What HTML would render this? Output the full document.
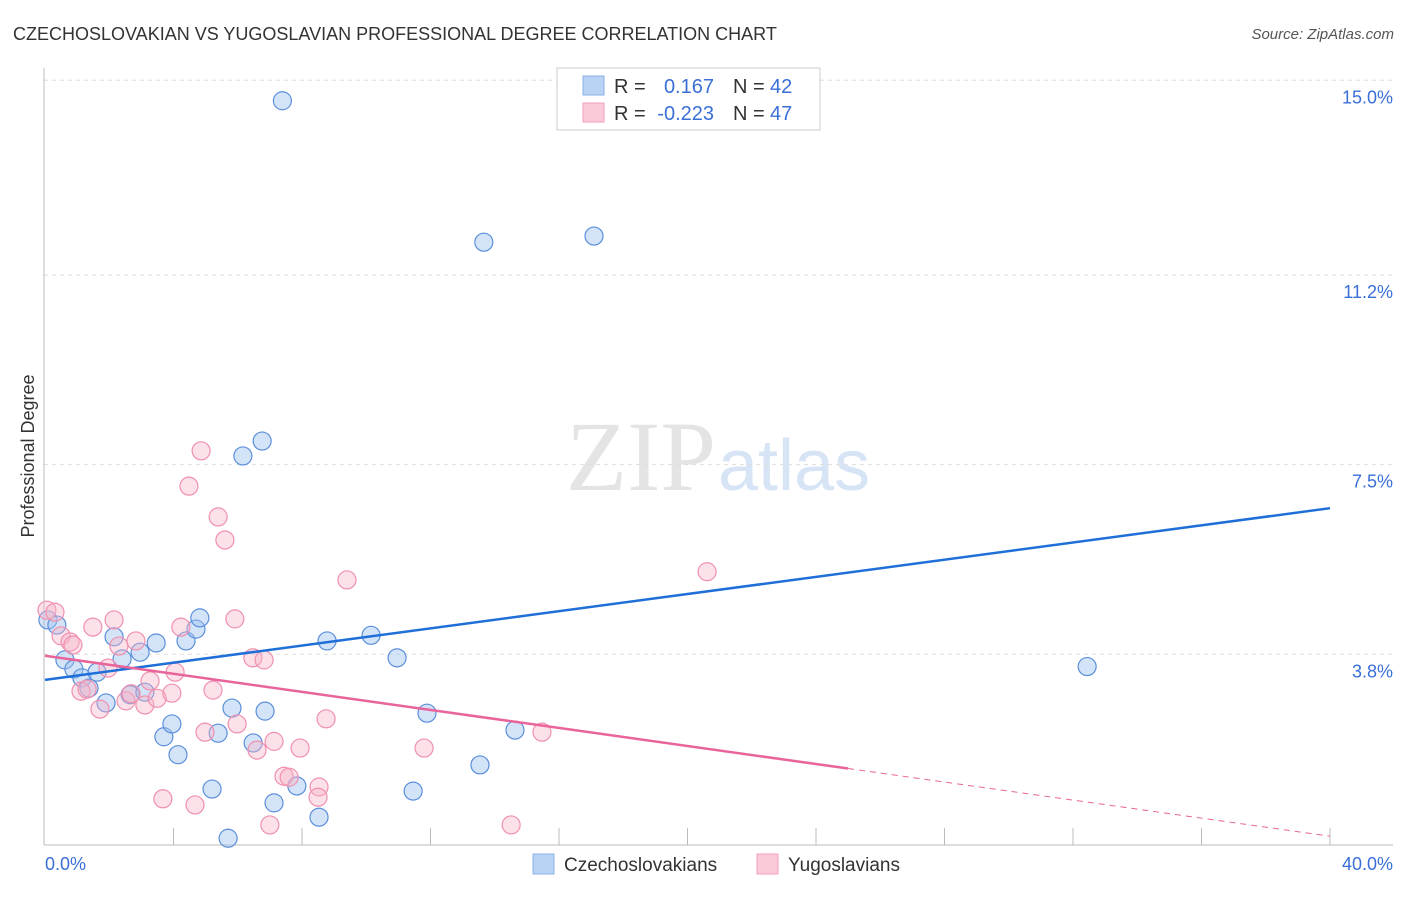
<!DOCTYPE html>
<html><head><meta charset="utf-8"><style>
body{margin:0;background:#fff;font-family:"Liberation Sans",sans-serif}
svg text{font-family:"Liberation Sans",sans-serif}
</style></head><body>
<svg id="c" width="1406" height="892" xmlns="http://www.w3.org/2000/svg">
<text x="13" y="40" font-size="18" fill="#333">CZECHOSLOVAKIAN VS YUGOSLAVIAN PROFESSIONAL DEGREE CORRELATION CHART</text>
<text x="1394" y="39" font-size="15" fill="#555" text-anchor="end" font-style="italic">Source: ZipAtlas.com</text>
<text x="716" y="490" font-size="100" fill="#e4e4e4" text-anchor="end" style="font-family:'Liberation Serif',serif">ZIP</text>
<text x="718" y="490" font-size="72" fill="#d6e4f5">atlas</text>
<text transform="translate(34,456) rotate(-90)" font-size="18" fill="#333" text-anchor="middle">Professional Degree</text>
<g id="grid"></g><g id="pts"></g><g id="lines"></g>
<g>
<rect x="557" y="68" width="263" height="62" fill="#fff" stroke="#ccc"/>
<rect x="583" y="76" width="21" height="19" fill="#b9d3f5" stroke="#8ab0e6"/>
<rect x="583" y="103" width="21" height="19" fill="#fbcad8" stroke="#f0a0b8"/>
<text x="614" y="93" font-size="20" fill="#333">R =</text>
<text x="714" y="93" font-size="20" fill="#3a6fd8" text-anchor="end">0.167</text>
<text x="733" y="93" font-size="20" fill="#333">N =</text>
<text x="770" y="93" font-size="20" fill="#3a6fd8">42</text>
<text x="614" y="120" font-size="20" fill="#333">R =</text>
<text x="714" y="120" font-size="20" fill="#3a6fd8" text-anchor="end">-0.223</text>
<text x="733" y="120" font-size="20" fill="#333">N =</text>
<text x="770" y="120" font-size="20" fill="#3a6fd8">47</text>
</g>
<g>
<rect x="533" y="854" width="21" height="20" fill="#b9d3f5" stroke="#8ab0e6"/>
<text x="564" y="871" font-size="19" fill="#333">Czechoslovakians</text>
<rect x="757" y="854" width="21" height="20" fill="#fbcad8" stroke="#f0a0b8"/>
<text x="788" y="871" font-size="19" fill="#333">Yugoslavians</text>
</g>
<text x="45" y="870" font-size="18" fill="#3a6fd8">0.0%</text>
<text x="1393" y="870" font-size="18" fill="#3a6fd8" text-anchor="end">40.0%</text>
</svg>
<script>
const yTicks=[15.0,11.2,7.5,3.8];
const yTickLabels=["15.0%","11.2%","7.5%","3.8%"];
const bX=[7.39,13.66,17.09,6.76,6.16,32.44,0.09,0.37,0.62,0.90,1.15,1.37,1.62,1.90,2.15,2.40,2.65,2.96,3.11,3.46,3.70,3.95,4.14,4.39,4.70,4.82,5.20,5.39,5.70,5.82,6.48,6.85,7.13,7.84,8.53,8.78,10.15,10.96,11.46,11.89,13.54,14.63];
const bY=[14.60,11.84,11.96,7.96,7.67,3.56,4.47,4.37,3.69,3.51,3.34,3.14,3.45,2.85,4.14,3.71,3.01,3.84,3.06,4.02,2.19,2.44,1.84,4.06,4.29,4.51,1.17,2.26,0.21,2.75,2.07,2.69,0.90,1.23,0.62,4.06,4.17,3.73,1.13,2.65,1.64,2.32];
const pX=[0.06,0.31,0.50,0.78,0.87,1.12,1.31,1.49,1.71,1.96,2.15,2.30,2.52,2.68,2.83,3.11,3.27,3.49,3.67,3.95,4.05,4.23,4.67,4.48,4.86,4.98,5.23,5.39,5.60,5.91,5.98,6.47,6.60,6.82,7.00,7.13,7.44,7.60,7.94,8.53,8.50,8.75,9.40,11.80,14.51,15.47,20.61];
const pY=[4.66,4.62,4.16,4.04,3.98,3.08,3.12,4.33,2.73,3.53,4.47,3.96,2.89,3.03,4.06,2.81,3.28,2.94,0.98,3.04,3.45,4.33,0.86,7.08,7.77,2.28,3.10,6.48,6.03,4.49,2.44,3.73,1.93,3.69,0.47,2.10,1.42,1.40,1.97,1.21,1.01,2.54,5.25,1.97,0.47,2.28,5.41];
const blueLine=[3.30,6.65];
const pinkLine=[3.77,0.25];
const pinkSolidEnd=25;
const NS="http://www.w3.org/2000/svg";
const X=v=>45+v*32.125, Y=v=>849-v*51.25;
function mk(t,a,p){const e=document.createElementNS(NS,t);for(const k in a)e.setAttribute(k,a[k]);p.appendChild(e);return e;}
const grid=document.getElementById('grid'),pts=document.getElementById('pts'),lines=document.getElementById('lines');
yTicks.forEach((t,i)=>{
 const l=mk('line',{x1:44,x2:1393,y1:Y(t),y2:Y(t),stroke:'#ddd','stroke-dasharray':'4,4'},grid);
 
 
 const tx=mk('text',{x:1393,y:Y(t)+23,'font-size':18,fill:'#3a6fd8','text-anchor':'end'},grid);
 tx.textContent=yTickLabels[i];
 
 
});
mk('line',{x1:44,x2:44,y1:68,y2:845,stroke:'#bbb'},grid);
mk('line',{x1:44,x2:1393,y1:845,y2:845,stroke:'#bbb'},grid);
for(let i=1;i<=10;i++){const t=mk('line',{x1:X(i*4),x2:X(i*4),y1:828,y2:845,stroke:'#bbb'},grid);
 
 }
bX.forEach((x,i)=>{const c=mk('circle',{cx:X(x),cy:Y(bY[i]),r:9,fill:'rgba(160,196,240,0.45)',stroke:'#5b8fdc','stroke-width':1.2},pts);
 
 });
pX.forEach((x,i)=>{const c=mk('circle',{cx:X(x),cy:Y(pY[i]),r:9,fill:'rgba(248,180,200,0.4)',stroke:'#f090b0','stroke-width':1.2},pts);
 
 });
const bl=mk('line',{x1:X(0),y1:Y(blueLine[0]),x2:X(40),y2:Y(blueLine[1]),stroke:'#1f6fd8','stroke-width':2.5},lines);


const pm=v=>pinkLine[0]+(pinkLine[1]-pinkLine[0])*v/40;
const pl=mk('line',{x1:X(0),y1:Y(pm(0)),x2:X(pinkSolidEnd),y2:Y(pm(pinkSolidEnd)),stroke:'#e8649a','stroke-width':2.5},lines);


const pd=mk('line',{x1:X(pinkSolidEnd),y1:Y(pm(pinkSolidEnd)),x2:X(40),y2:Y(pm(40)),stroke:'#e8649a','stroke-width':1,'stroke-dasharray':'6,5'},lines);


</script>
</body></html>
